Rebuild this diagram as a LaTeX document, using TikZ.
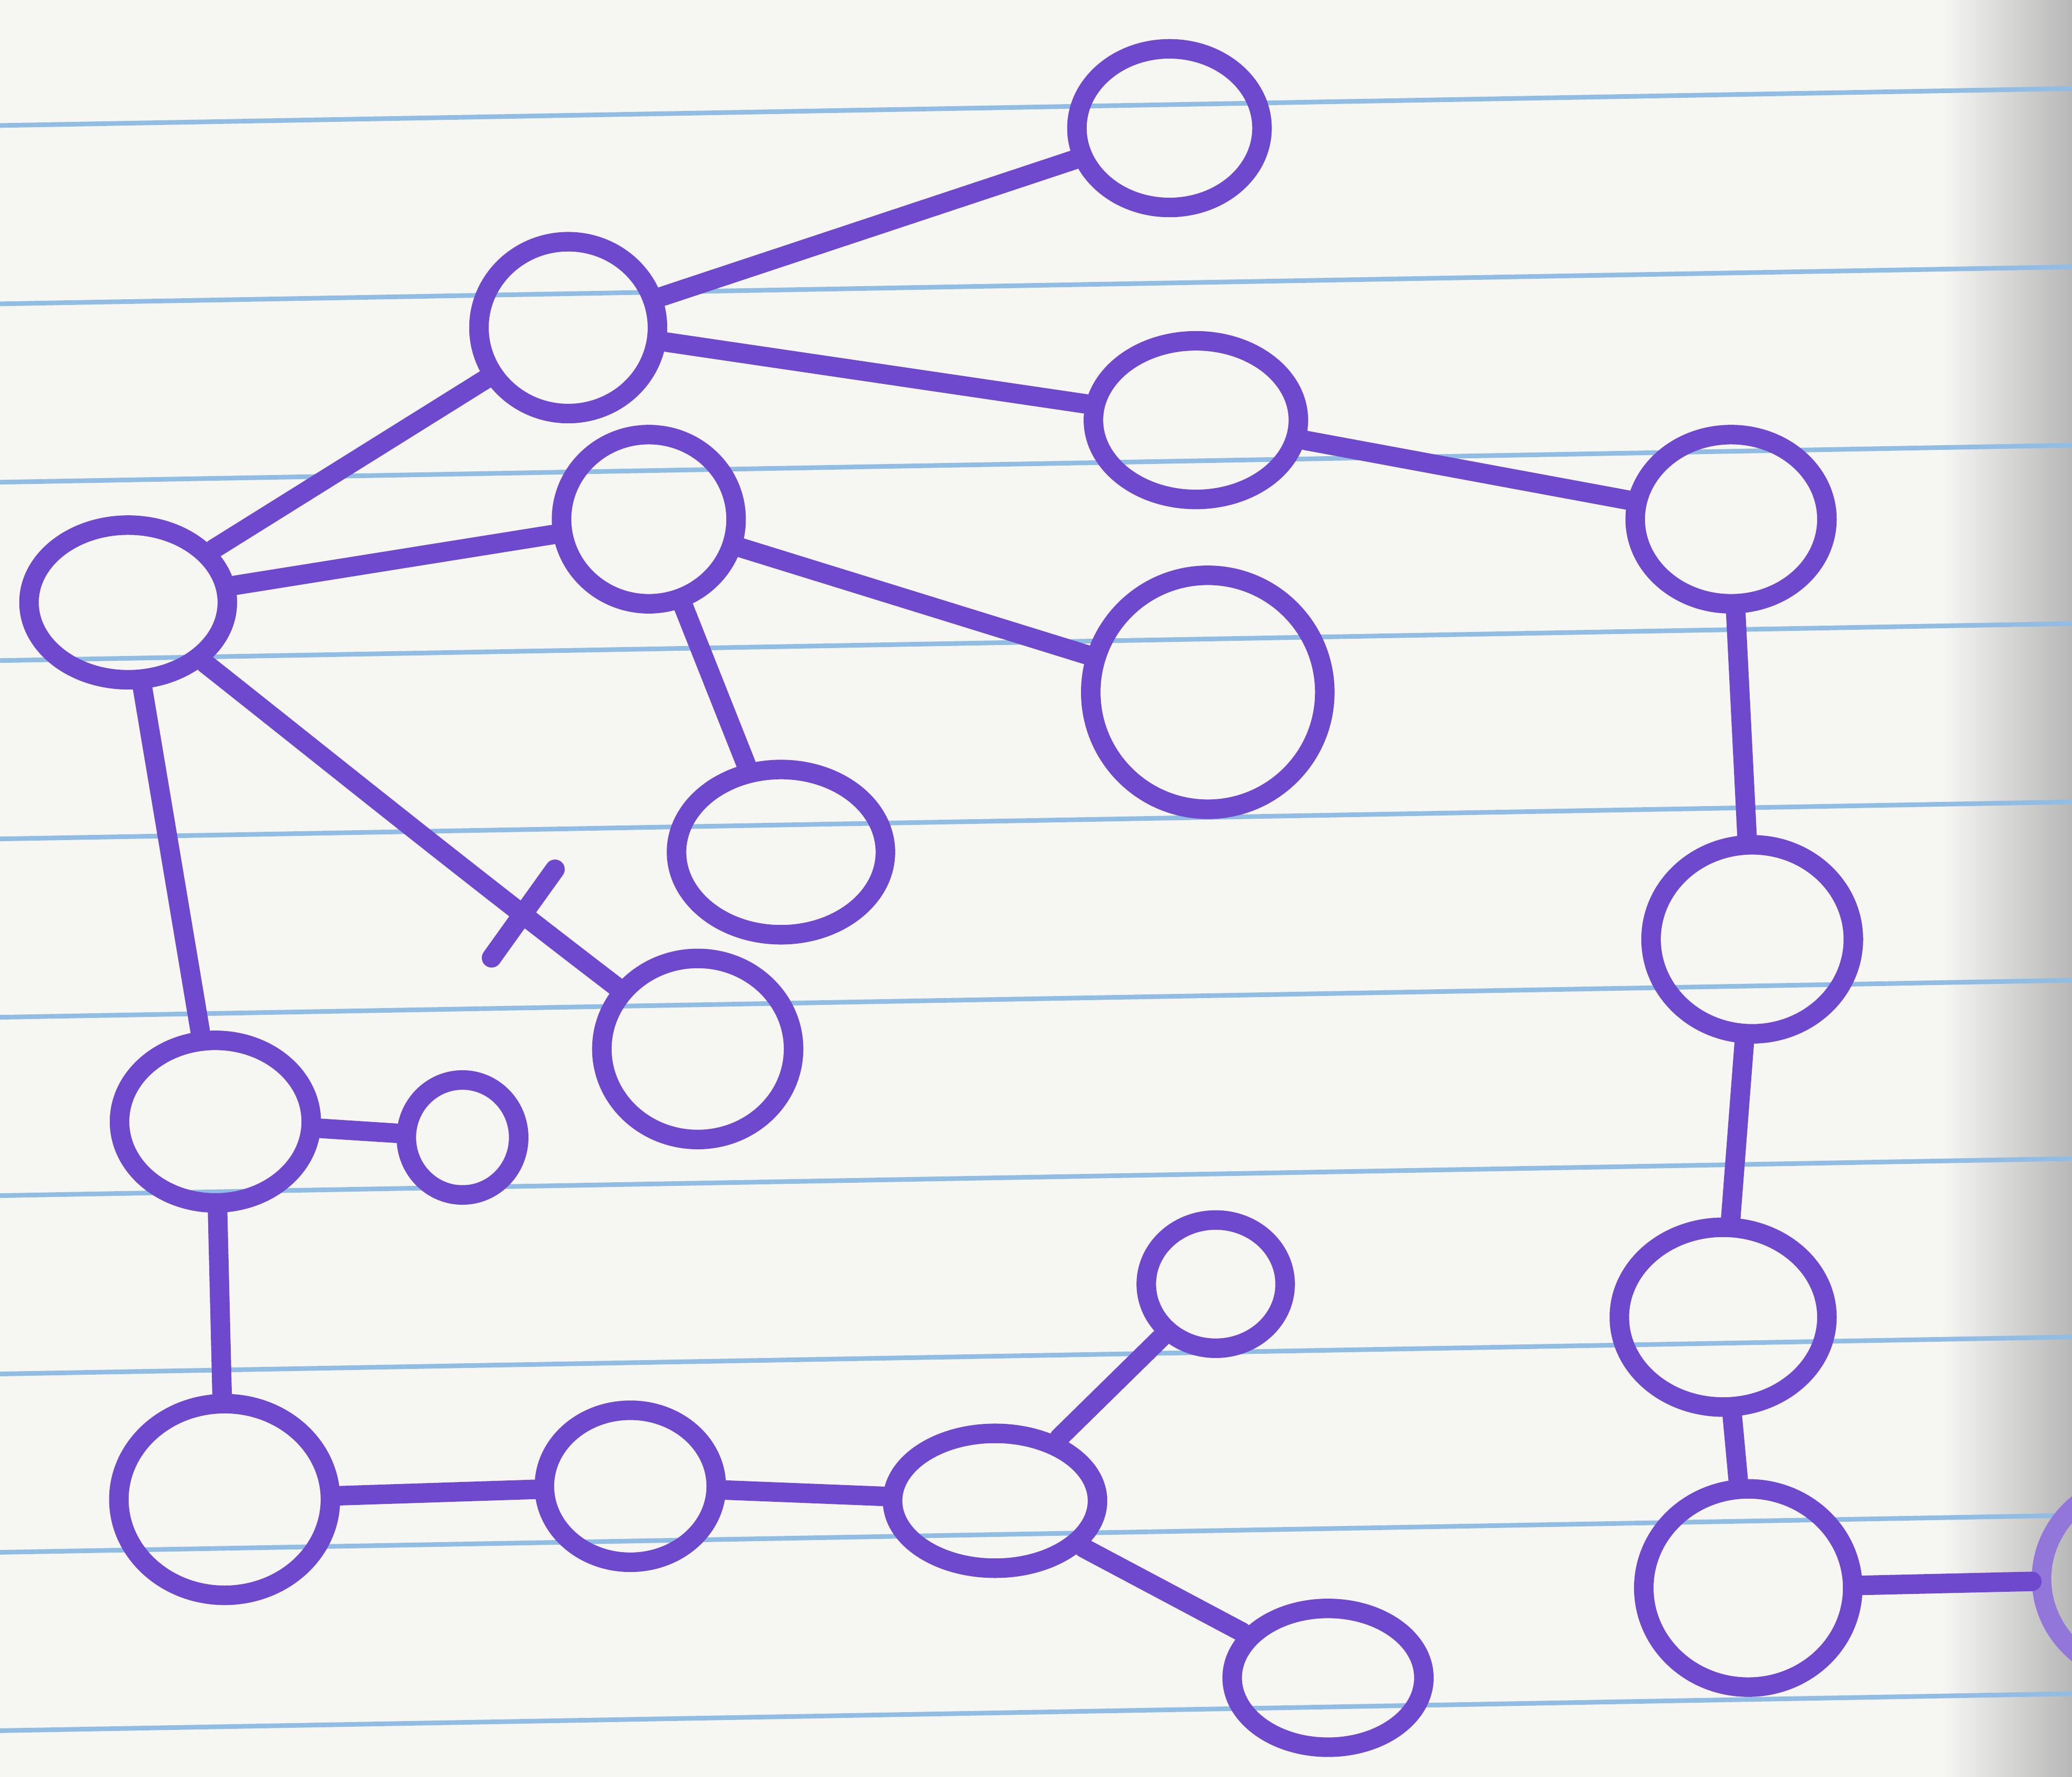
\documentclass[tikz,border=0pt]{standalone}
\usepackage{tikz}
\usetikzlibrary{shapes.geometric,calc}
\definecolor{ink}{RGB}{110,72,205}
\definecolor{rule}{RGB}{145,188,228}
\definecolor{paper}{RGB}{246,246,243}
\begin{document}
\begin{tikzpicture}[x=0.01cm, y=-0.01cm,
    ring/.style={ellipse, draw=ink, inner sep=0pt, line width=4.2pt},
    link/.style={draw=ink, line width=4.2pt, line cap=round}]
  \useasboundingbox (0,0) rectangle (1568,1345);
  \clip (0,0) rectangle (1568,1345);
  % paper
  \fill[paper] (0,0) rectangle (1568,1345);
  \shade[left color=paper, right color=black!28] (1470,0) rectangle (1568,1345);
  \foreach \k in {0,...,9}
    {\pgfmathsetmacro{\yl}{95+135*\k}
     \draw[rule, line width=1pt] (0,\yl) -- (1568,\yl-28);}
  % nodes
  \node[ring, minimum width=1.40cm, minimum height=1.20cm] (n1) at (885,97) {};
  \node[ring, minimum width=1.35cm, minimum height=1.30cm] (n2) at (430,248) {};
  \node[ring, minimum width=1.55cm, minimum height=1.20cm] (n3) at (905,318) {};
  \node[ring, minimum width=1.45cm, minimum height=1.28cm] (n4) at (1310,393) {};
  \node[ring, minimum width=1.50cm, minimum height=1.17cm] (n5) at (97,456) {};
  \node[ring, minimum width=1.32cm, minimum height=1.28cm] (n6) at (491,393) {};
  \node[ring, minimum width=1.77cm, minimum height=1.77cm] (n7) at (914,524) {};
  \node[ring, minimum width=1.58cm, minimum height=1.25cm] (n8) at (591,645) {};
  \node[ring, minimum width=1.45cm, minimum height=1.37cm] (n9) at (528,794) {};
  \node[ring, minimum width=1.45cm, minimum height=1.23cm] (n10) at (163,849) {};
  \node[ring, minimum width=0.85cm, minimum height=0.87cm] (n11) at (350,861) {};
  \node[ring, minimum width=1.53cm, minimum height=1.43cm] (n12) at (1326,711) {};
  \node[ring, minimum width=1.57cm, minimum height=1.36cm] (n13) at (1304,997) {};
  \node[ring, minimum width=1.05cm, minimum height=0.97cm] (n14) at (920,972) {};
  \node[ring, minimum width=1.60cm, minimum height=1.45cm] (n15) at (170,1135) {};
  \node[ring, minimum width=1.30cm, minimum height=1.15cm] (n16) at (477,1125) {};
  \node[ring, minimum width=1.55cm, minimum height=1.02cm] (n17) at (753,1136) {};
  \node[ring, minimum width=1.45cm, minimum height=1.05cm] (n18) at (1005,1270) {};
  \node[ring, minimum width=1.58cm, minimum height=1.50cm] (n19) at (1323,1202) {};
  \node[ring, draw=ink!75, minimum width=1.60cm, minimum height=1.50cm] (n20) at (1625,1195) {};
  % edges
  \draw[link] (n2) -- (n1);
  \draw[link] (n2) -- (n3);
  \draw[link] (n3) -- (n4);
  \draw[link] (n5) -- (n2);
  \draw[link] (n5) -- (n6);
  \draw[link] (n6) -- (n7);
  \draw[link] (n6) -- (n8);
  \draw[link] (n5) .. controls (260,585) and (340,650) .. (n9);
  \draw[link] (372,725) -- (420,658);
  \draw[link] (n5) -- (n10);
  \draw[link] (n10) -- (n11);
  \draw[link] (n10) -- (n15);
  \draw[link] (n15) -- (n16);
  \draw[link] (n16) -- (n17);
  \draw[link] (n17) -- (n14);
  \draw[link] (n17) -- (n18);
  \draw[link] (n4) -- (n12);
  \draw[link] (n12) -- (n13);
  \draw[link] (n13) -- (n19);
  \draw[link] (n19) -- (n20);
\end{tikzpicture}
\end{document}
